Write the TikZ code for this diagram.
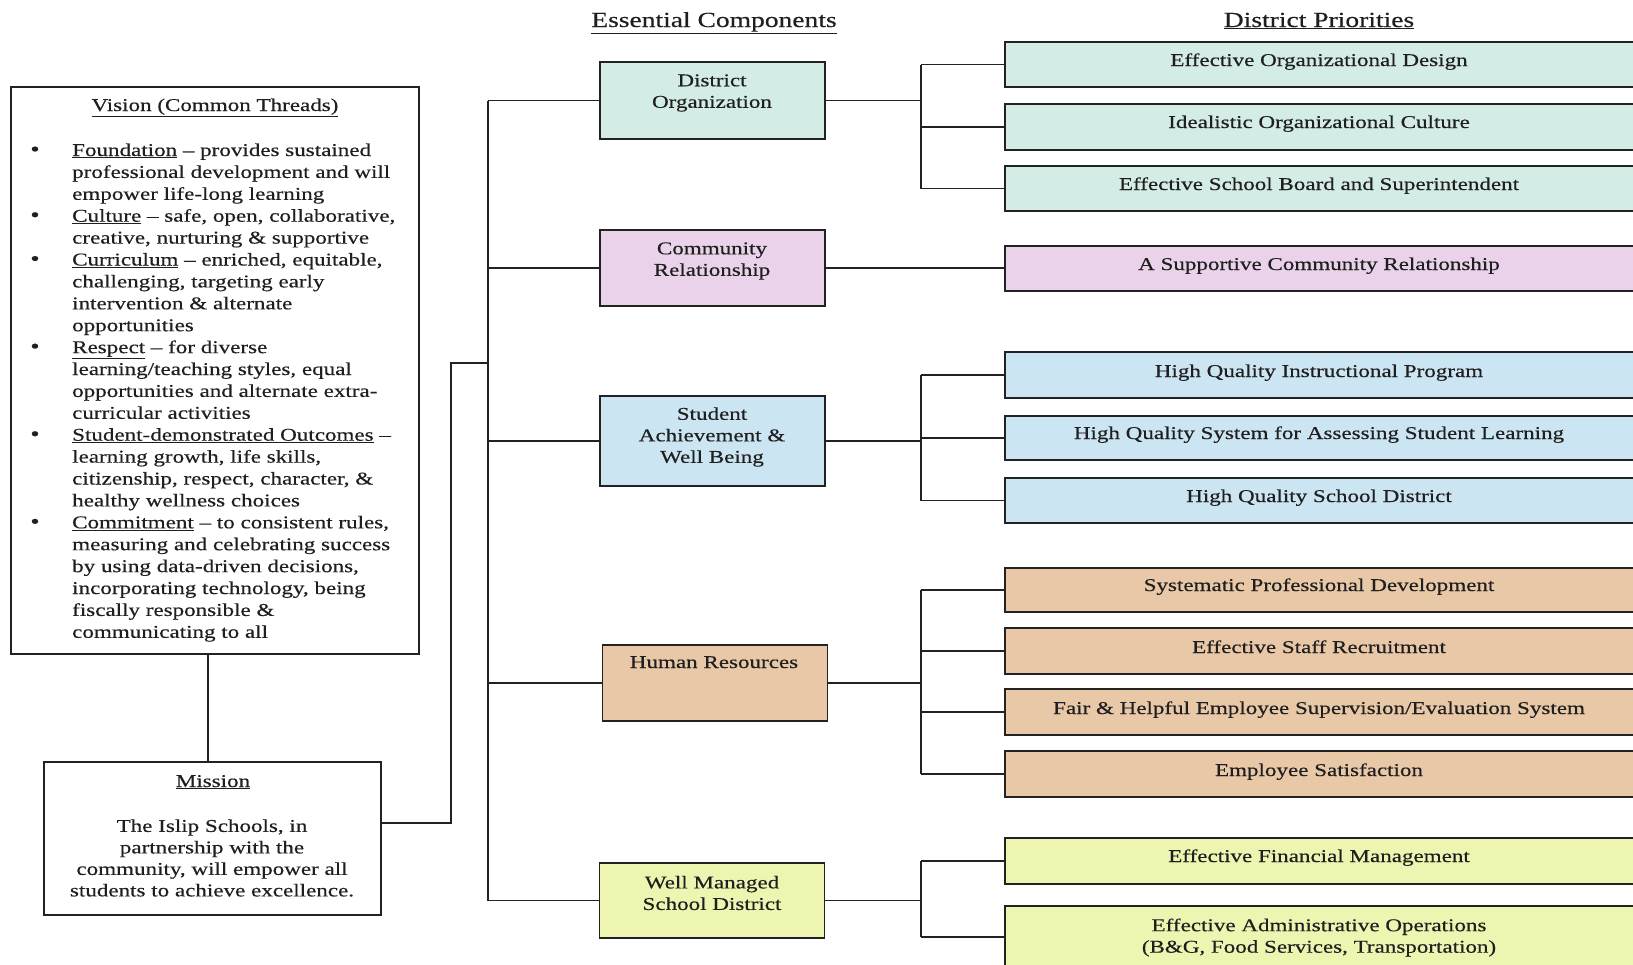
\documentclass[tikz,border=0pt]{standalone}
\usepackage{fontspec}
\setmainfont{Liberation Serif}[FakeStretch=1.28,FakeBold=0.35]
\definecolor{lc}{HTML}{222222}
\definecolor{cteal}{HTML}{D3ECE6}
\definecolor{cpink}{HTML}{EAD3EA}
\definecolor{cblue}{HTML}{CCE5F2}
\definecolor{ctan}{HTML}{E8C8A7}
\definecolor{cyel}{HTML}{EEF5B0}
\begin{document}
\begin{tikzpicture}[x=1pt,y=-1pt,
  bx/.style={draw=lc, line width=1.7pt, rectangle, inner sep=0pt},
  pbox/.style={bx, minimum width=640pt},
  cbox/.style={bx, minimum width=225pt},
  txt/.style={font=\fontsize{18}{21.5}\selectfont, inner sep=0pt, align=center, text=black!88},
  ttl/.style={font=\fontsize{21.5}{25}\selectfont, inner sep=0pt, anchor=base, text=black!88},
  vtxt/.style={font=\fontsize{18}{21.5}\selectfont, inner sep=0pt, anchor=base west, text=black!88},
  ln/.style={draw=lc, line width=1.7pt},
]
\useasboundingbox (0,0) rectangle (1633,964);
\fill[white] (0,0) rectangle (1633,964);

% titles
\node[ttl] (hec) at (714,27) {\underline{Essential Components}};
\node[ttl] (hdp) at (1319,27) {\underline{District Priorities}};

% vision
\node[bx, minimum width=408pt, minimum height=567pt] (vision) at (215,370.5) {};
\node[txt, anchor=base] (vtitle) at (215,111) {\underline{Vision (Common Threads)}};
\foreach [count=\i] \t in {
 {\underline{Foundation} -- provides sustained},
 {professional development and will},
 {empower life-long learning},
 {\underline{Culture} -- safe, open, collaborative,},
 {creative, nurturing \& supportive},
 {\underline{Curriculum} -- enriched, equitable,},
 {challenging, targeting early},
 {intervention \& alternate},
 {opportunities},
 {\underline{Respect} -- for diverse},
 {learning/teaching styles, equal},
 {opportunities and alternate extra-},
 {curricular activities},
 {\underline{Student-demonstrated Outcomes} --},
 {learning growth, life skills,},
 {citizenship, respect, character, \&},
 {healthy wellness choices},
 {\underline{Commitment} -- to consistent rules,},
 {measuring and celebrating success},
 {by using data-driven decisions,},
 {incorporating technology, being},
 {fiscally responsible \&},
 {communicating to all}}
  \node[vtxt] (v\i) at (72,{156+21.9*(\i-1)}) {\t};
\foreach \i in {1,4,6,10,14,18}
  \node[txt, anchor=base, font=\fontsize{21}{21.5}\selectfont] (b\i) at (35,{156+21.9*(\i-1)}) {\textbullet};

% mission
\node[bx, minimum width=337pt, minimum height=153pt] (mission) at (212.5,838.5) {};
\node[txt, anchor=base] (mtitle) at (213,787) {\underline{Mission}};
\node[txt] (mtext) at (212,858) {The Islip Schools, in\\partnership with the\\community, will empower all\\students to achieve excellence.};

% components
\node[cbox, fill=cteal, minimum height=77pt] (do) at (712.5,100.5) {};
\node[cbox, fill=cpink, minimum height=76pt] (cr) at (712.5,268) {};
\node[cbox, fill=cblue, minimum height=90pt] (sa) at (712.5,441) {};
\node[cbox, fill=ctan, minimum height=76pt] (hr) at (715,683) {};
\node[cbox, fill=cyel, minimum height=75pt] (wm) at (712,900.5) {};
\node[txt] (dot) at (712,93) {District\\Organization};
\node[txt] (crt) at (712,261) {Community\\Relationship};
\node[txt] (sat) at (712,437) {Student\\Achievement \&\\Well Being};
\node[txt, anchor=base] (hrt) at (714,668) {Human Resources};
\node[txt] (wmt) at (712,893) {Well Managed\\School District};

% priorities
\node[pbox, fill=cteal, minimum height=45pt] (p1) at (1325,64.5) {};
\node[pbox, fill=cteal, minimum height=46pt] (p2) at (1325,127) {};
\node[pbox, fill=cteal, minimum height=45pt] (p3) at (1325,188.5) {};
\node[pbox, fill=cpink, minimum height=45pt] (p4) at (1325,268.5) {};
\node[pbox, fill=cblue, minimum height=46pt] (p5) at (1325,375) {};
\node[pbox, fill=cblue, minimum height=44pt] (p6) at (1325,438) {};
\node[pbox, fill=cblue, minimum height=45pt] (p7) at (1325,500.5) {};
\node[pbox, fill=ctan, minimum height=44pt] (p8) at (1325,590) {};
\node[pbox, fill=ctan, minimum height=46pt] (p9) at (1325,651) {};
\node[pbox, fill=ctan, minimum height=46pt] (p10) at (1325,712) {};
\node[pbox, fill=ctan, minimum height=46pt] (p11) at (1325,774) {};
\node[pbox, fill=cyel, minimum height=46pt] (p12) at (1325,861) {};
\node[pbox, fill=cyel, minimum height=70pt] (p13) at (1325,941) {};

\node[txt, anchor=base] (t1) at (1319,66) {Effective Organizational Design};
\node[txt, anchor=base] (t2) at (1319,128) {Idealistic Organizational Culture};
\node[txt, anchor=base] (t3) at (1319,190) {Effective School Board and Superintendent};
\node[txt, anchor=base] (t4) at (1319,270) {A Supportive Community Relationship};
\node[txt, anchor=base] (t5) at (1319,377) {High Quality Instructional Program};
\node[txt, anchor=base] (t6) at (1319,439) {High Quality System for Assessing Student Learning};
\node[txt, anchor=base] (t7) at (1319,502) {High Quality School District};
\node[txt, anchor=base] (t8) at (1319,591) {Systematic Professional Development};
\node[txt, anchor=base] (t9) at (1319,653) {Effective Staff Recruitment};
\node[txt, anchor=base] (t10) at (1319,714) {Fair \& Helpful Employee Supervision/Evaluation System};
\node[txt, anchor=base] (t11) at (1319,776) {Employee Satisfaction};
\node[txt, anchor=base] (t12) at (1319,862) {Effective Financial Management};
\node[txt] (t13) at (1319,937.5) {Effective Administrative Operations\\(B\&G, Food Services, Transportation)};

% connectors
\coordinate (vm) at (208,700);
\coordinate (mc) at (451,823);
\coordinate (bm) at (488,363);
\coordinate (bus) at (488,0);
\coordinate (sb) at (921,0);
\draw[ln] (vm |- vision.south) -- (vm |- mission.north);
\draw[ln] (mission.east |- mc) -- (mc) |- (bm);
\draw[ln] (do.west -| bus) -- (wm.west -| bus);
\foreach \n in {do,cr,sa,hr,wm} \draw[ln] (\n.west -| bus) -- (\n.west);
% district organization
\draw[ln] (do.east) -- (do.east -| sb);
\draw[ln] (p1.west -| sb) -- (p3.west -| sb);
\foreach \p in {p1,p2,p3} \draw[ln] (\p.west -| sb) -- (\p.west);
% community
\draw[ln] (cr.east) -- (cr.east -| p4.west);
% student
\draw[ln] (sa.east) -- (sa.east -| sb);
\draw[ln] (p5.west -| sb) -- (p7.west -| sb);
\foreach \p in {p5,p6,p7} \draw[ln] (\p.west -| sb) -- (\p.west);
% human resources
\draw[ln] (hr.east) -- (hr.east -| sb);
\draw[ln] (p8.west -| sb) -- (p11.west -| sb);
\foreach \p in {p8,p9,p10,p11} \draw[ln] (\p.west -| sb) -- (\p.west);
% well managed
\coordinate (c13) at (921,937);
\draw[ln] (wm.east) -- (wm.east -| sb);
\draw[ln] (p12.west -| sb) -- (c13);
\draw[ln] (p12.west -| sb) -- (p12.west);
\draw[ln] (c13) -- (c13 -| p13.west);
\end{tikzpicture}
\end{document}
